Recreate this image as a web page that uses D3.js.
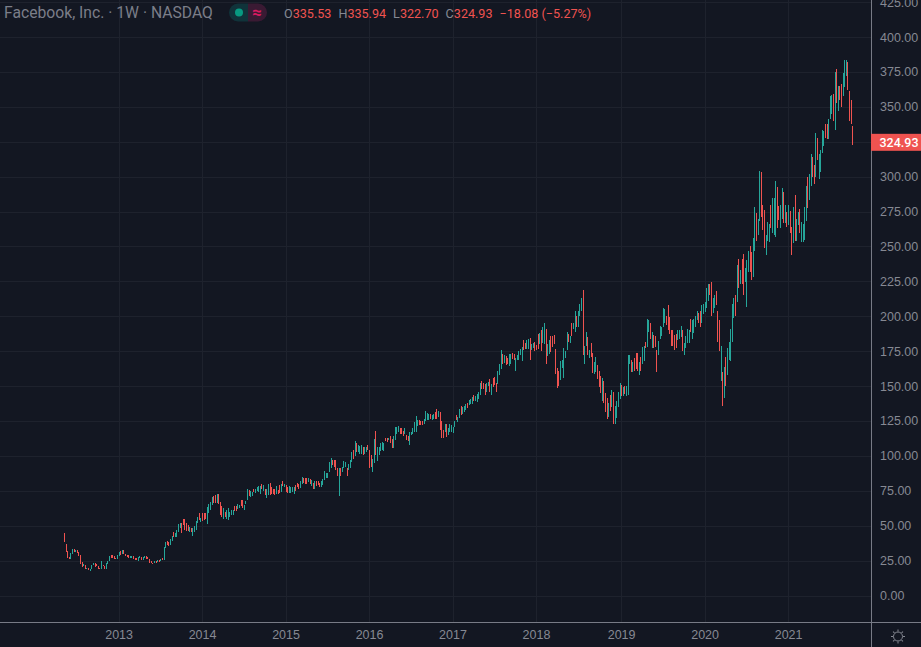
<!DOCTYPE html>
<html>
<head>
<meta charset="utf-8">
<title>Facebook, Inc. 1W</title>
<script src="https://d3js.org/d3.v7.min.js"></script>
<style>
  body { margin: 0; background: #131722; overflow: hidden; }
  svg { display: block; font-family: Roboto, sans-serif; }
  .grid line { stroke: #1e222d; }
  .grid path { display: none; }
  .grid text { display: none; }
  .tick text { fill: #868993; font-size: 12.5px; }
</style>
</head>
<body>
<svg class="canvas" width="921" height="647"></svg>
<script>
// weekly bars, one row per week: open, high, low, close
const y2012 = [
  [42,45,38,38.2],[36.5,36.7,30.9,31.9],[31.6,31.7,26.8,27.7],[27.5,27.8,25.8,27.1],[27.2,30.4,26.2,30],
  [30,33.4,29.5,33.05],[32.9,33.4,31,31.1],[31.2,32.8,30.8,31.7],[32,32.9,30.5,30.7],[30.7,31,28.5,28.8],
  [28.7,29,22.3,23.7],[23.4,24,20.7,21.1],[21,22.3,20.8,21.8],[21.6,22,18.9,19],[19,20,18.9,19.4],
  [19.4,19.6,18,18.1],[18.1,19.2,17.6,19],[19,22,18.9,22],[22,23.4,21.8,22.9],[22.9,23,20.4,21.7],
  [21.9,22.4,20.9,20.9],[20.9,21.1,19.2,19.5],[19.6,19.9,18.8,19],[19.2,24.4,18.9,21.9],[21.5,21.8,20.9,21.2],
  [21.1,21.4,19.2,19.3],[19.5,23.6,19.2,23.6],[23.6,24.6,22.9,24],[25,28,24.7,28],[28,28.9,26.8,27.5],
  [27.5,28.9,26.7,26.8],[27,28,26.2,26.3],[26.5,27,25.8,25.9],
];
const y2013 = [
  [26.2,28.9,26.1,28.8],[28.7,31.5,28.6,31.3],[30.6,31.7,29.3,30],[30.5,32.5,30,31.5],[31.7,32.5,29.4,29.7],
  [29.5,30,28.2,28.5],[28.6,29,27.3,28.3],[28.3,28.8,26.9,27.1],[27.1,28,26.8,27.8],[27.8,28.2,26.8,28],
  [28,28.5,25.8,26],[26.4,26.5,25.2,25.7],[25.8,26.5,25.3,25.6],[25.6,27.6,25,27.4],[27.4,28,26.9,27.4],
  [27.2,27.4,25.5,25.7],[25.9,27.5,25.6,26.9],[27,28.6,27,28.3],[28.3,28.5,26.2,26.7],[26.6,27.3,25.9,26.3],
  [26,26.3,23.3,23.6],[24.3,24.8,23.2,23.3],[23.3,23.5,22.8,23.2],[23.3,24.6,23,24.4],[24.6,25,23.4,24.5],
  [24.2,25.3,23.8,24.9],[24.9,25.4,24.3,24.4],[24.6,25.9,24.5,25.6],[26.2,26.5,25.2,25.9],
  [26,35,25.4,34],[34.1,38.3,34,38],[38.6,39,36,36.5],[37.6,38,35.4,36],[36.2,40.2,36,40],
  [39.5,42.5,39,42.2],[45,45.3,42.1,43],[43,45,42,44.5],[43.5,47.2,42.1,47],[46,51.1,45.3,50.5],
  [48.5,52.1,48,51.5],[51,51.6,44.5,46],[54,54.5,50.4,51],[54,54.7,46.7,48],[51,51.6,46.3,47],
  [50,50.4,46,47],[46,49.2,45.3,48.8],[48.2,48.7,45.6,46],[43,48,42.5,47.5],[46,49.7,45.6,49.2],
  [47.5,53.3,47,53],[52,56.4,51.6,56],[58,58.8,54,55],[52.8,55.7,52.3,55.2],
];
const y2014 = [
  [57,58.8,53,54],[58.2,58.8,54,55],[58.5,58.8,54.7,55.5],[52,63.5,51.1,63],[59.5,65.2,58.8,64.8],
  [62,67.1,61.1,66.8],[65,70.2,64.7,69.8],[71,71.4,66.4,67],[71.5,71.9,65.9,66.5],[66.8,72.6,66.4,72.2],
  [72.2,72.6,65.5,66],[66.5,67,57.6,58],[63.5,64,56.5,57],[55,63,54.5,62.5],[59.7,60,56.5,57],
  [55.5,61,55,60.5],[54.5,63,54,62.5],[56.5,60,56,59.5],[58,61,57.6,60.5],[58,61,57.6,60.7],
  [63.7,64,60.7,61],[63.7,64,60.7,61.2],[62,65.4,61.6,65],[62.6,65,62.4,64.6],[68,68.3,64,64.4],
  [68,68.3,62.4,63],[61.4,65,61,64.6],[65.5,67.6,65.4,67.3],[68.5,76.6,68.3,76],[75.2,75.5,71.2,71.6],
  [71,75,70.7,74.6],[71.5,74.3,71.2,74],[76.3,76.6,74.3,74.6],[73.4,76,73.1,75.7],[75.2,78,75,77.6],
  [74.6,78.3,74.3,78],[73,78.3,72.6,77.8],[79.2,79.5,76,76.4],[75.3,79,75,78.6],[76.3,76.6,71.9,72.3],
  [70.4,76,70,75.6],[72.3,80.2,71.9,79.8],[80.6,80.9,71.9,72.4],[77,77.5,72.5,73],[76.3,76.6,72.4,72.8],
  [76.3,76.6,71.9,72.3],[72.8,78.3,72.4,78],[75.2,75.5,72.6,73],[78.6,79,73.6,74],[74.6,79.5,74.3,79.2],
  [81.5,81.9,78.3,78.7],[78.1,80.2,77.8,79.9],
];
const y2015 = [
  [78.7,79,74.3,74.7],[77.4,77.8,73.1,73.5],[73.9,78.3,73.6,78],[74,77.8,73.6,77.5],[74.2,77.6,73.8,77.2],
  [72.8,77.4,72.4,77],[78.7,79,74.8,75.2],[80.3,80.6,77.4,77.8],[79.9,80.2,76,76.4],[77.4,81.9,77.1,81.6],
  [80.5,85,80.2,84.7],[83.5,83.8,80.6,81],[83.5,83.8,80.2,80.6],[83.5,83.8,79.5,79.9],[81.7,84.5,81.4,84.2],
  [83,83.6,79.5,80],[78.6,82.6,78.3,82.3],[80.3,80.6,76.6,77],[76.3,81.9,76,81.6],[81.7,82,78.5,79],
  [81.6,81.9,79,79.3],[80.3,80.6,77.4,77.8],[78.1,81.9,77.8,81.6],[79.3,83.3,79,83],[82.9,89,82.6,88.7],
  [84.8,87.9,84.5,87.6],[84.8,87.9,84.5,87.6],[88.8,95.5,88.5,95.2],[91.3,98.8,91,98.5],[97.1,97.4,93.4,93.8],
  [96.7,97,92,92.4],[96.7,97,89.7,90],[90.7,91,85.5,85.9],[85,91,71.2,90.7],[90.7,91,85.5,85.9],
  [88.8,92.1,88.5,91.8],[91.3,96.2,91,95.9],[92.4,95.5,92.1,95.2],[90.7,91,85.5,85.9],[90,94,89.7,93.7],
  [91.3,97,91,96.7],[95.6,102.9,95.3,102.6],[104.2,104.5,98.1,98.5],[100.3,110.5,100,110.2],[109.2,109.5,102.9,103.3],
  [103.2,107.7,102.9,107.4],[101.3,107,101,106.7],[102,107.7,101.7,107.4],[106.2,106.5,100.5,100.9],[102,106.5,101.7,106.2],
  [103.2,106.5,102.9,106.2],[107.4,107.7,104.1,104.5],
];
const y2016 = [
  [103.8,104.1,91,91.4],[100.2,100.5,92.1,92.5],[88.8,98.1,88.5,97.8],[94.9,112.4,94.6,112.1],[117.4,117.7,100.5,100.9],
  [96.8,106.5,96.5,106.2],[100.8,106,100.5,105.7],[103.7,109.3,103.4,109],[104.3,110,104,109.7],[103.7,109.3,103.4,109],
  [112.8,113,111,111.3],[112.8,113.1,110,110.3],[111.9,113,111.7,112.8],[114,114.3,109,109.3],[112.1,112.4,105.8,106.1],
  [106.1,114,105.8,113.7],[111.5,120.8,111.2,120.5],[115.8,120.8,115.5,120.5],[117.5,121.2,117.2,120.9],[119.7,120,115.5,115.8],
  [119.7,120,116,116.3],[117.5,118,114.5,115],[116.3,120,116,119.7],[114.9,115.2,111.7,112],[114,114.3,110.8,111.1],
  [108,117.2,107.7,116.9],[115.1,117.2,114.8,116.9],[116.3,120,116,119.7],[117,124,116.8,123.7],[117.5,128.4,117.2,128.1],
  [121.5,126,121.2,125.7],[125.5,125.9,122,122.3],[124.7,125,122,122.3],[124.5,124.8,122,122.3],[123,126.7,122.7,126.4],
  [125.3,132,125,131.7],[126.3,130.5,126,130.2],[126.3,130.3,126,130],[130,130.3,126.7,127],[126.3,129.6,126,129.3],
  [127,130.3,126.7,130],[131.4,131.7,126.7,127],[133.1,133.4,126.3,126.6],[128,131.8,127.5,131.5],[131.4,131.7,118.3,118.6],
  [124.5,124.8,112.9,113.2],[118,118.3,112.9,113.2],[117.5,122.5,117.2,122.2],[122.2,122.5,113.6,113.9],[115.1,120.1,114.8,119.8],
  [117.5,122.5,117.2,122.2],[117.4,122,117,121.7],
];
const y2017 = [
  [116.8,121,116.5,120.7],[120.8,125,120.5,124.7],[128.7,129,126,126.3],[124.3,128,124,127.7],[127.3,133.6,127,133.3],
  [135.6,135.9,129,129.3],[130.1,135,129.8,134.7],[131.8,135.6,131.5,135.3],[133,137,132.7,136.7],[137.7,138,134,134.3],
  [136.6,139.8,136.3,139.5],[137.3,141,137,140.7],[137.3,142.2,137,141.9],[143.1,143.4,139.4,139.7],[139.3,143,139,142.7],
  [139,144.1,138.7,143.8],[141.3,146,141,145.7],[143.7,152,143.4,151.7],[153.1,153.4,148.2,148.5],[152.2,152.5,147.7,148],
  [151.4,151.7,143.4,143.7],[146.1,152.5,145.8,152.2],[150.3,153,150,152.7],[155,155.3,145.8,146.1],[143.7,151.2,143.4,150.9],
  [155.7,156,149.4,149.7],[156.2,156.5,150.6,150.9],[151.9,152.2,146,146.3],[151.5,160.8,151.2,160.5],[158,165.6,157.7,165.3],
  [162.7,175.6,162.4,175.3],[172.5,172.8,166,166.3],[166.8,172,166.5,171.7],[171,171.3,164.9,165.2],[169.8,170.1,166,166.3],
  [164.5,172.8,164.2,172.5],[166.3,173.2,166,172.9],[173.6,173.9,169.7,170],[172.5,172.8,169,169.3],[161.1,170.3,160.8,170],
  [168.8,172,168.5,171.7],[168.8,175.1,168.5,174.8],[172.3,176.3,172,176],[168.1,178,167.8,177.7],[182.5,182.8,176,176.3],
  [180.6,180.9,176.8,177.1],[177.1,182.8,176.8,182.5],[177.1,184,176.8,183.7],[184.1,184.4,168.5,168.8],[175.9,180.4,175.6,180.1],
  [177.3,181,177,180.7],[181.2,181.5,175,175.3],
];
const y2018 = [
  [178.9,179.2,175.6,175.9],[187.2,187.5,176.8,177.1],[180.7,187.8,180.4,187.5],[189.7,190,175,175.3],[181.3,192,181,191.7],
  [180.7,195.2,180.4,194.9],[190.3,190.6,166,166.3],[171.6,180.4,171.3,180.1],[173.5,183.3,173.2,183],[185.3,185.6,174.4,174.7],
  [185.3,185.6,178,178.3],[186,186.3,180.4,180.7],[176.5,176.8,158.3,158.6],[162.7,163,148.6,148.9],[160.7,161,150,150.3],
  [154.3,168,154,167.7],[163.3,169,163,168.7],[156.3,177,156,176.7],[170.3,175,170,174.7],[176.3,189,176,188.7],
  [187.3,187.6,181.5,181.8],[180.8,186,180.5,185.7],[194.7,195,185.6,185.9],[191.3,195.5,191,195.2],[189,203.5,188.7,203.2],
  [200.2,200.5,192,192.3],[192.3,204,192,203.7],[200.3,209,200,208.7],[204.3,213,204,212.7],[218.3,218.6,172,172.3],
  [165.9,178.5,165.6,178.2],[178.8,188.7,178.5,188.4],[184.5,184.8,172,172.3],[170.3,176,170,175.7],[180.7,181,170.5,170.8],
  [173.1,173.4,159.4,159.7],[158.8,167,158.5,166.7],[160.3,171,160,170.7],[165,165.3,155,155.3],[160.7,161,149,149.3],
  [156.7,157,145,145.3],[139.3,156,139,155.7],[153.2,153.5,138,138.3],[144.7,145,131.5,131.8],[141.2,141.5,126.5,126.8],
  [128.3,138,128,137.7],[143.2,143.5,132,132.3],[135.3,147,135,146.7],[145.3,145.6,123,123.3],[122.8,135.5,122.5,135.2],
  [127.3,139,127,138.7],[135.3,145.6,135,145.3],[141.3,152,141,151.7],
];
const y2019 = [
  [150.7,151,143,143.3],[143.3,149,143,148.7],[149.7,150,144,144.3],[143.3,150,143,149.7],[143.8,172,143.5,171.7],
  [166.3,172,166,171.7],[168.2,168.5,160,160.3],[160.3,167,160,166.7],[169.7,170,161,161.3],[173.7,174,162,162.3],
  [173.7,174,161,161.3],[158.3,167,158,166.7],[170.7,171,161,161.3],[166.3,178,166,177.7],[168.3,179,168,178.7],
  [181.2,181.5,177,177.3],[178.3,198,178,197.7],[189.3,197,189,196.7],[195.2,195.5,184,184.3],[177.3,189,177,188.7],
  [186.2,186.5,177,177.3],[185.2,185.5,178,178.3],[175.2,175.5,160,160.3],[172.3,182,172,181.7],[184.3,193,184,192.7],
  [186.3,192.5,186,192.2],[192.3,205.6,192,205.3],[195.3,205.5,195,205.2],[199.7,200,194,194.3],[207.7,208,190,190.3],
  [199.2,199.5,187,187.3],[190.2,190.5,178.7,179],[190.2,190.5,178.5,178.8],[186.2,186.5,176,176.3],[187.2,187.5,177,177.3],
  [183.3,190,183,189.7],[184.3,190,184,189.7],[185.3,193,185,192.7],[189.7,190,175,175.3],[172.3,181,172,180.7],
  [177.3,186,177,185.7],[180.8,191,180.5,190.7],[181.3,190.5,181,190.2],[197.5,197.8,188.4,188.7],[184.3,197,184,196.7],
  [188.3,197.8,188,197.5],[192.3,200,192,199.7],[197.3,203.5,197,203.2],[201.7,202,195,195.3],[203.2,203.5,192,192.3],
  [195.3,207.8,195,207.5],[201.8,208.6,201.5,208.3],
];
const y2020 = [
  [203.3,209.9,203,209.6],[205.9,220,205.6,219.7],[211.3,222.8,211,222.5],[222.5,222.8,215,215.3],[224.2,224.5,200,200.3],
  [202.3,212.8,202,212.5],[205.9,215,205.6,214.7],[217.7,218,208,208.3],[203.2,203.5,181.5,181.8],[196.7,197,175,175.3],
  [153.9,178.5,153.6,178.2],[159.7,160,136,136.3],[141.8,164,141.5,163.7],[170.3,170.6,150,150.3],[157.9,177,157.6,176.7],
  [168.9,181.5,168.6,181.2],[168.3,190.6,168,190.3],[181.8,209,181.5,208.7],[198.8,213,198.5,212.7],[214.7,215,200,200.3],
  [210.3,237,210,236.7],[240.4,240.7,220,220.3],[223.1,232.8,222.8,232.5],[240.4,240.7,222.8,223.1],[244.4,244.7,215,215.3],
  [224.8,234.3,224.5,234],[206.9,240,206.6,239.7],[231.9,247,231.6,246.7],[249.7,250,231.6,231.9],[245.7,246,226,226.3],
  [228.3,255.7,228,255.4],[246.7,278.6,246.4,278.3],[273.3,273.6,254,254.3],[258.3,270,258,269.7],[268.3,304,268,303.7],
  [303.3,303.6,270.8,271.1],[279.3,279.6,261.6,261.9],[275.7,276,249,249.3],[243.9,258,243.6,257.7],[254.3,267.8,254,267.5],
  [253.3,266,253,265.7],[279.7,280,263,263.3],[259.9,285,259.6,284.7],[258.3,285,258,284.7],[257,297,256.7,296.7],
  [292.3,292.6,263,263.3],[278.7,279,268.7,269],[263.3,280,263,279.7],[270.3,291.6,270,291.3],[288.6,288.9,266.5,266.8],
  [266.8,280,266.5,279.7],[274.2,274.5,263.8,264.1],
];
const y2021 = [
  [265.3,280,265,279.7],[275.4,275.7,259.6,259.9],[263.5,263.8,243.6,243.9],[252.7,278.6,252.4,278.3],[286.2,286.5,254,254.3],
  [254.3,270,254,269.7],[265.3,274.5,265,274.2],[276.2,276.5,259.6,259.9],[253.3,267.4,253,267.1],[253.3,266,253,265.7],
  [254.7,278.4,254.4,278.1],[268.2,293,267.9,292.7],[299.1,299.4,277.4,277.7],[283.9,302,283.6,301.7],[293.3,316,293,315.7],
  [313.7,314,300,300.3],[307.7,308,295,295.3],[300.3,331,300,330.7],[327.7,328,312,312.3],[298.3,316,298,315.7],
  [303.3,319,303,318.7],[317.3,333.6,317,333.3],[322.3,333,322,332.7],[337.7,338,327.6,327.9],[337.7,338,327,327.3],
  [327.3,341,327,340.7],[341.3,358,341,357.7],[345.3,358.6,345,358.3],[359.1,359.4,340,340.3],[333.9,375,333.6,374.7],
  [376.7,377,352.5,352.8],[347.3,365,347,364.7],[364.7,365,355,355.3],[365.7,366,350,350.3],[358.3,374,358,373.7],
  [364.3,383.6,364,383.3],[372.3,383.6,372,383.3],[381.7,382,361.7,362],[360.7,361,339.6,339.9],[354.7,355,338,343.01],
  [335.53,335.94,322.7,324.93],
];

const priceTicks = d3.range(0, 426, 25);
const yearLabels = ["2013", "2014", "2015", "2016", "2017", "2018", "2019", "2020", "2021"];
const yearBars = [34, 86, 138, 190, 242, 294, 347, 399, 451]; // first bar of each year
const lastPrice = 324.93;

const upColor = "#26a69a";
const downColor = "#ef5350";
const axisColor = "#787b86";

const bars = [y2012, y2013, y2014, y2015, y2016, y2017, y2018, y2019, y2020, y2021]
  .flat()
  .map(([open, high, low, close], i) => ({ i, open, high, low, close }));

const svg = d3.select(".canvas");
const plotRight = 871;
const plotBottom = 622;

const x = d3.scaleLinear().domain([0, bars.length - 1]).range([64, 852.3]);
const y = d3.scaleLinear().domain([0, 400]).range([595.5, 37]);

// grid
svg.append("g")
  .attr("class", "grid")
  .attr("transform", `translate(0,${plotBottom})`)
  .attr("shape-rendering", "crispEdges")
  .call(d3.axisBottom(x).tickValues(yearBars).tickSize(-plotBottom));
svg.append("g")
  .attr("class", "grid")
  .attr("shape-rendering", "crispEdges")
  .call(d3.axisRight(y).tickValues(priceTicks).tickSize(plotRight));

// candles
const candles = svg.append("g").attr("shape-rendering", "crispEdges");
const color = (d) => (d.close >= d.open ? upColor : downColor);
candles.selectAll(".wick")
  .data(bars)
  .enter()
  .append("rect")
  .attr("class", "wick")
  .attr("x", (d) => Math.round(x(d.i)))
  .attr("width", 1)
  .attr("y", (d) => y(d.high))
  .attr("height", (d) => y(d.low) - y(d.high))
  .attr("fill", color);

// price axis
const yAxisGroup = svg.append("g")
  .attr("transform", `translate(${plotRight},0)`)
  .call(d3.axisRight(y).tickValues(priceTicks).tickSize(0).tickPadding(9).tickFormat(d3.format(".2f")));
yAxisGroup.select(".domain").remove();

// time axis
const xAxisGroup = svg.append("g")
  .attr("transform", `translate(0,${plotBottom})`)
  .call(d3.axisBottom(x).tickValues(yearBars).tickSize(0).tickPadding(8)
    .tickFormat((d, i) => yearLabels[i]));
xAxisGroup.select(".domain").remove();
xAxisGroup.selectAll("text").attr("font-weight", 500);

svg.append("rect").attr("x", plotRight).attr("y", 0).attr("width", 1).attr("height", 647).attr("fill", axisColor);
svg.append("rect").attr("x", 0).attr("y", plotBottom).attr("width", 921).attr("height", 1).attr("fill", axisColor);

// last price label
svg.append("rect")
  .attr("x", plotRight)
  .attr("y", y(lastPrice) - 8)
  .attr("width", 50)
  .attr("height", 17)
  .attr("fill", downColor);
svg.append("text")
  .attr("x", plotRight + 8.5)
  .attr("y", y(lastPrice) + 0.5)
  .attr("dy", "0.35em")
  .attr("fill", "#fff")
  .attr("font-size", 12.5)
  .attr("font-weight", 500)
  .text(lastPrice.toFixed(2));

// legend
svg.append("text")
  .attr("x", 4)
  .attr("y", 18)
  .attr("fill", "#7b7e89")
  .attr("font-size", 15.7)
  .text("Facebook, Inc. · 1W · NASDAQ");

const pill = svg.append("g");
pill.append("path").attr("d", "M238 3.5a9 9 0 0 0 0 18h10v-18z").attr("fill", "#10333a");
pill.append("path").attr("d", "M248 3.5h10a9 9 0 0 1 0 18h-10z").attr("fill", "#3a1a33");
pill.append("circle").attr("cx", 239).attr("cy", 12.5).attr("r", 4).attr("fill", "#089981");
pill.append("text").attr("x", 257).attr("y", 18).attr("text-anchor", "middle")
  .attr("fill", "#d81b60").attr("font-size", 17).attr("font-weight", 700).text("≈");

const ohlcLabels = ["O", "H", "L", "C"];
const ohlcValues = ["335.53", "335.94", "322.70", "324.93"];
const legend = svg.append("text").attr("x", 284).attr("y", 18).attr("font-size", 12.6);
ohlcLabels.forEach((label, i) => {
  legend.append("tspan").attr("dx", i ? 7 : 0).attr("fill", "#868993").text(label);
  legend.append("tspan").attr("fill", downColor).text(ohlcValues[i]);
});
legend.append("tspan").attr("dx", 7).attr("fill", downColor).text("−18.08 (−5.27%)");

// settings icon
const sun = svg.append("g")
  .attr("transform", "translate(898,636.5)")
  .attr("stroke", "#868993")
  .attr("fill", "none");
sun.append("circle").attr("r", 4.5);
sun.selectAll("line")
  .data(d3.range(0, 360, 45))
  .enter()
  .append("line")
  .attr("y1", -5)
  .attr("y2", -7)
  .attr("transform", (d) => `rotate(${d})`);
</script>
</body>
</html>
